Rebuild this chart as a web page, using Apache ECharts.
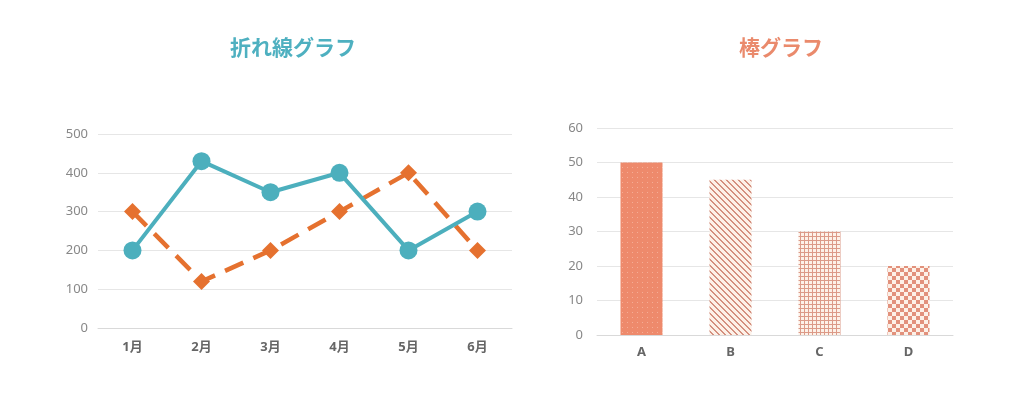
<!DOCTYPE html>
<html>
<head>
<meta charset="utf-8">
<script src="https://cdn.jsdelivr.net/npm/echarts@6/dist/echarts.min.js"></script>
<style>
  html, body { margin: 0; padding: 0; background: #fff; }
  #chart { width: 1024px; height: 399px; }
</style>
</head>
<body>
<div id="chart"></div>
<script>
var months = ['1月', '2月', '3月', '4月', '5月', '6月'];
var seriesTeal = [200, 430, 350, 400, 200, 300];
var seriesOrange = [300, 120, 200, 300, 400, 200];
var barCats = ['A', 'B', 'C', 'D'];
var barValues = [50, 45, 30, 20];

// small tiles for the bar fills
function tile(size, draw) {
  var c = document.createElement('canvas');
  c.width = size; c.height = size;
  draw(c.getContext('2d'));
  return c;
}
var cream = '#fdf1e8';
var dots = tile(5, function (g) {
  g.fillStyle = '#ee8a6c'; g.fillRect(0, 0, 5, 5);
  g.fillStyle = '#f5ad96'; g.fillRect(2, 2, 1, 1);
});
var stripes = tile(6, function (g) {
  g.fillStyle = cream; g.fillRect(0, 0, 6, 6);
  g.fillStyle = '#d4907f';
  for (var i = 0; i < 6; i++) {
    g.fillRect(i, i, 2, 1);
  }
  g.fillRect(0, 5, 1, 1);
});
var grid = tile(4, function (g) {
  g.fillStyle = cream; g.fillRect(0, 0, 4, 4);
  g.fillStyle = '#dc9a88';
  g.fillRect(0, 0, 4, 1);
  g.fillRect(0, 0, 1, 4);
});
var checker = tile(8, function (g) {
  g.fillStyle = cream; g.fillRect(0, 0, 8, 8);
  g.fillStyle = '#e2917c';
  g.fillRect(0, 0, 4, 4);
  g.fillRect(4, 4, 4, 4);
});
var fills = [dots, stripes, grid, checker];

var myChart = echarts.init(document.getElementById('chart'));
var labelGray = '#888888';
var catStyle = { color: '#666666', fontSize: 13, fontWeight: 'bold', fontFamily: '"Noto Sans", "Noto Sans CJK JP", sans-serif' };

var option = {
  backgroundColor: '#ffffff',
  animation: false,
  title: [
    {
      text: '折れ線グラフ', left: 288, top: 32, textAlign: 'center',
      textStyle: { color: '#4eb0c0', fontSize: 21, fontWeight: 'bold', fontFamily: 'Noto Sans CJK JP' }
    },
    {
      text: '棒グラフ', left: 776, top: 32, textAlign: 'center',
      textStyle: { color: '#ea8a6c', fontSize: 21, fontWeight: 'bold', fontFamily: 'Noto Sans CJK JP' }
    }
  ],
  grid: [
    { left: 98, right: 512, top: 134, bottom: 71 },
    { left: 597, right: 71, top: 128, bottom: 64 }
  ],
  xAxis: [
    {
      gridIndex: 0, type: 'category', data: months,
      axisTick: { show: false },
      axisLine: { lineStyle: { color: '#d9d9d9' } },
      axisLabel: Object.assign({ margin: 13 }, catStyle)
    },
    {
      gridIndex: 1, type: 'category', data: barCats,
      axisTick: { show: false },
      axisLine: { lineStyle: { color: '#d9d9d9' } },
      axisLabel: Object.assign({ margin: 11 }, catStyle)
    }
  ],
  yAxis: [
    {
      gridIndex: 0, type: 'value', min: 0, max: 500, interval: 100,
      axisLine: { show: false }, axisTick: { show: false },
      axisLabel: { color: labelGray, fontSize: 13, margin: 10, fontFamily: 'Noto Sans' },
      splitLine: { lineStyle: { color: '#e6e6e6' } }
    },
    {
      gridIndex: 1, type: 'value', min: 0, max: 60, interval: 10,
      axisLine: { show: false }, axisTick: { show: false },
      axisLabel: { color: labelGray, fontSize: 13, margin: 14, fontFamily: 'Noto Sans' },
      splitLine: { lineStyle: { color: '#e6e6e6' } }
    }
  ],
  series: [
    {
      type: 'line', xAxisIndex: 0, yAxisIndex: 0, data: seriesOrange,
      symbol: 'diamond', symbolSize: 17,
      lineStyle: { color: '#e5712f', width: 4.5, type: [20, 11] },
      itemStyle: { color: '#e5712f' }
    },
    {
      type: 'line', xAxisIndex: 0, yAxisIndex: 0, data: seriesTeal,
      symbol: 'circle', symbolSize: 18,
      lineStyle: { color: '#4cafbd', width: 4 },
      itemStyle: { color: '#4cafbd' }
    },
    {
      type: 'bar', xAxisIndex: 1, yAxisIndex: 1, barWidth: 42,
      data: barValues.map(function (v, i) {
        return { value: v, itemStyle: { color: { image: fills[i], repeat: 'repeat' } } };
      })
    }
  ]
};
myChart.setOption(option);
</script>
</body>
</html>
